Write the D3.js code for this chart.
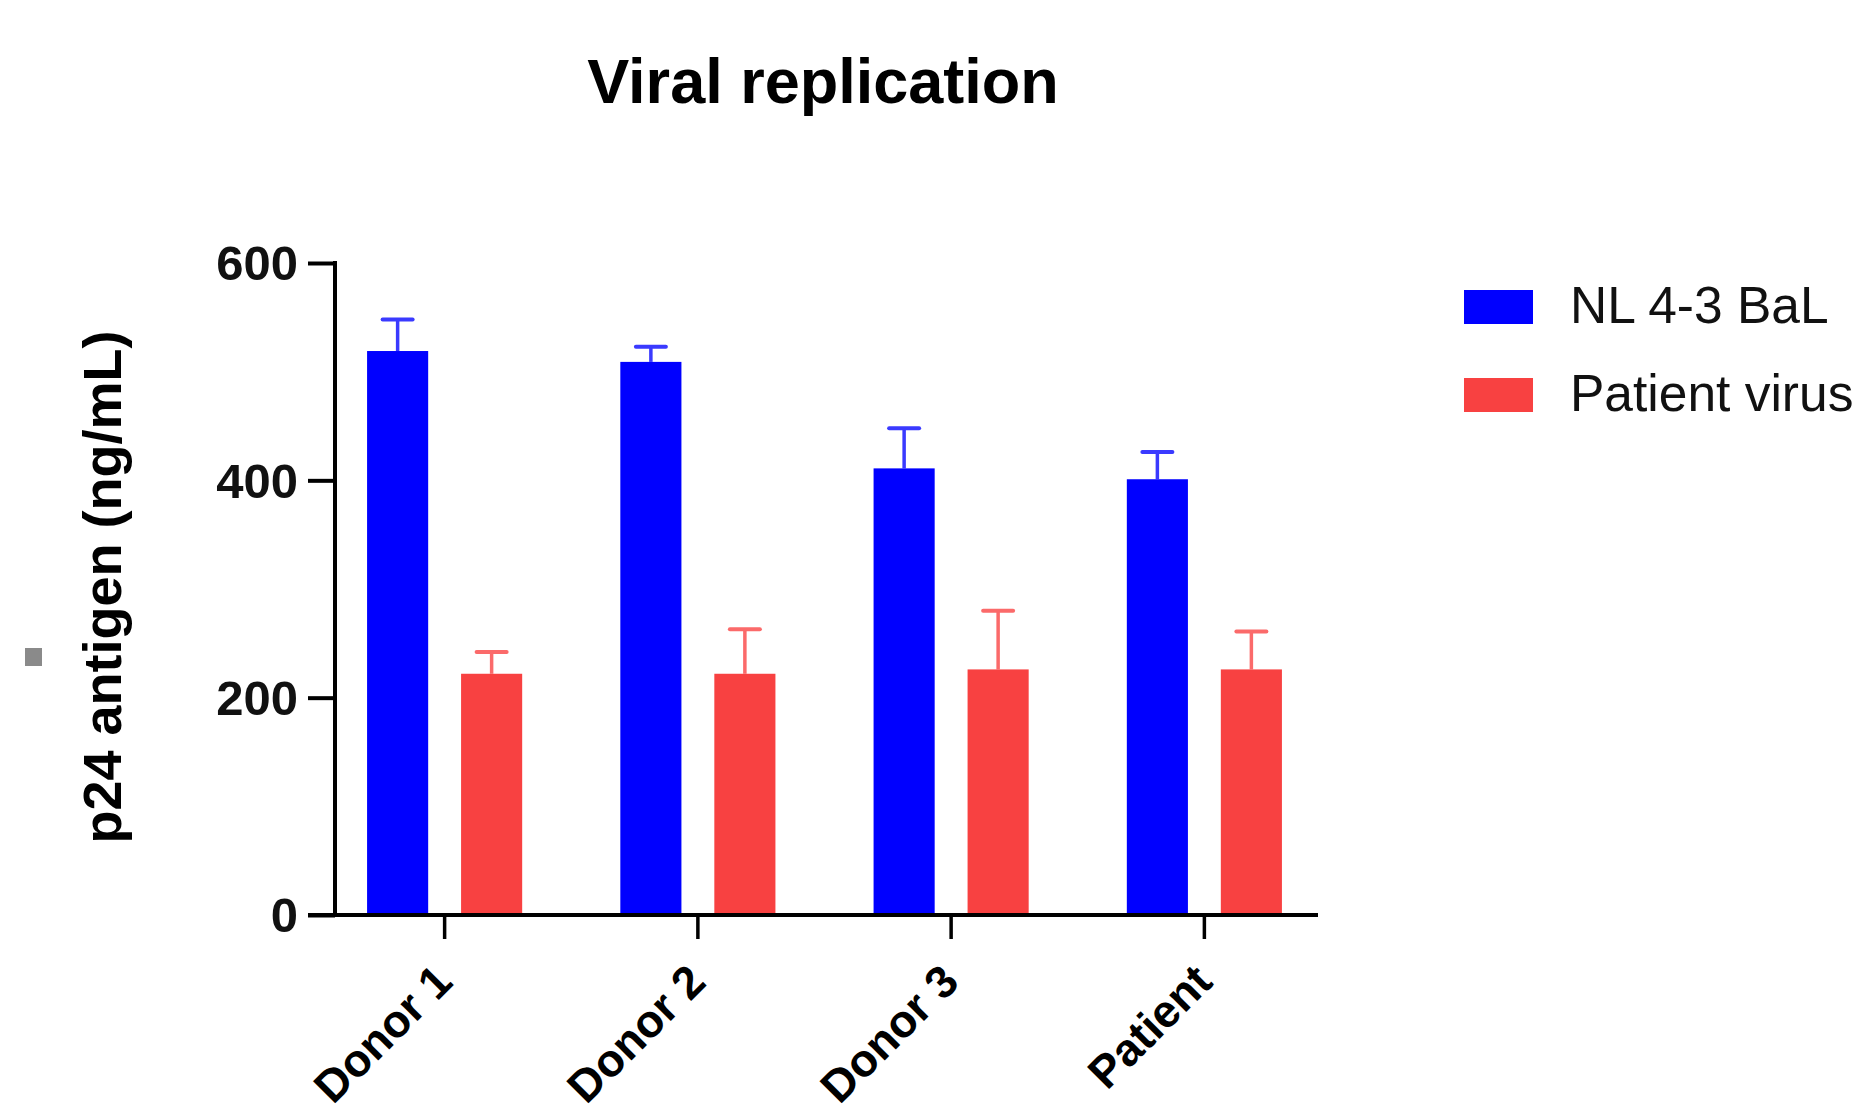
<!DOCTYPE html>
<html>
<head>
<meta charset="utf-8">
<script src="https://cdn.jsdelivr.net/npm/d3@7"></script>
<style>
  html, body { margin: 0; padding: 0; background: #ffffff; }
  svg { display: block; }
  text { font-family: "Liberation Sans", Arial, Helvetica, sans-serif; }
</style>
</head>
<body>
<svg id="chart" width="1863" height="1115"></svg>
<script>
// Groups on the x axis
const categories = ["Donor 1", "Donor 2", "Donor 3", "Patient"];
// Series names
const seriesNames = ["NL 4-3 BaL", "Patient virus"];
// Mean p24 antigen (ng/mL) per group
const nlBalMeans = [519, 509, 411, 401];
const patientVirusMeans = [222, 222, 226, 226];
// Upper error (SD) per group
const nlBalErrors = [29, 14, 37, 25];
const patientVirusErrors = [20, 41, 54, 35];
// Y axis ticks
const yTicks = [0, 200, 400, 600];

const fills = { "NL 4-3 BaL": "#0000ff", "Patient virus": "#f84141" };
const errColors = { "NL 4-3 BaL": "#3a3aff", "Patient virus": "#fb6a6a" };

const rows = categories.map((c, i) => ({
  category: c,
  values: [
    { series: seriesNames[0], mean: nlBalMeans[i], err: nlBalErrors[i] },
    { series: seriesNames[1], mean: patientVirusMeans[i], err: patientVirusErrors[i] }
  ]
}));

const svg = d3.select("#chart");

const x0 = d3.scaleBand().domain(categories).range([318, 1331]).padding(0);
const bw = x0.bandwidth();
const x1 = d3.scaleBand().domain(seriesNames)
  .range([bw / 2 - 94, bw / 2 + 94])
  .paddingInner(0.35).paddingOuter(0.175);
const y = d3.scaleLinear().domain([0, 600]).range([915, 263]);

// Title
svg.append("text")
  .attr("x", 823).attr("y", 103)
  .attr("text-anchor", "middle")
  .attr("font-size", 63).attr("font-weight", "bold")
  .attr("fill", "#000")
  .text("Viral replication");

// Bars and error bars
const groups = svg.append("g").selectAll("g")
  .data(rows).join("g")
  .attr("transform", d => `translate(${x0(d.category)},0)`);

groups.selectAll("line.err")
  .data(d => d.values).join("line")
  .attr("class", "err")
  .attr("x1", d => x1(d.series) + x1.bandwidth() / 2)
  .attr("x2", d => x1(d.series) + x1.bandwidth() / 2)
  .attr("y1", d => y(d.mean))
  .attr("y2", d => y(d.mean + d.err))
  .attr("stroke", d => errColors[d.series])
  .attr("stroke-width", 3.5);

groups.selectAll("line.cap")
  .data(d => d.values).join("line")
  .attr("class", "cap")
  .attr("x1", d => x1(d.series) + x1.bandwidth() / 2 - 15)
  .attr("x2", d => x1(d.series) + x1.bandwidth() / 2 + 15)
  .attr("y1", d => y(d.mean + d.err))
  .attr("y2", d => y(d.mean + d.err))
  .attr("stroke", d => errColors[d.series])
  .attr("stroke-width", 4)
  .attr("stroke-linecap", "round");

groups.selectAll("rect")
  .data(d => d.values).join("rect")
  .attr("x", d => x1(d.series))
  .attr("width", x1.bandwidth())
  .attr("y", d => y(d.mean))
  .attr("height", d => y(0) - y(d.mean))
  .attr("fill", d => fills[d.series]);

// Y axis
const yAxis = svg.append("g")
  .attr("transform", "translate(335,0)")
  .call(d3.axisLeft(y).tickValues(yTicks).tickSize(27).tickPadding(10).tickSizeOuter(0));
yAxis.select(".domain").attr("stroke", "#000").attr("stroke-width", 4)
  .attr("d", `M0,${y(600) - 2}V${y(0) + 2}`);
yAxis.selectAll(".tick line").attr("stroke", "#000").attr("stroke-width", 4);
yAxis.selectAll(".tick text")
  .attr("font-size", 49).attr("font-weight", "bold").attr("fill", "#111")
  .attr("font-family", "\"Liberation Sans\", Arial, sans-serif")
  .attr("dy", "0.34em");

// X axis
const xAxis = svg.append("g")
  .attr("transform", "translate(0,915)")
  .call(d3.axisBottom(x0).tickSize(24).tickSizeOuter(0).tickFormat(""));
xAxis.select(".domain").attr("stroke", "#000").attr("stroke-width", 4)
  .attr("d", "M308,0H1318");
xAxis.selectAll(".tick line").attr("stroke", "#000").attr("stroke-width", 3.5);

// Rotated category labels
svg.append("g").selectAll("text")
  .data(categories).join("text")
  .attr("transform", d => `translate(${x0(d) + bw / 2 + 10},984) rotate(-45)`)
  .attr("text-anchor", "end")
  .attr("font-size", 45.5).attr("font-weight", "bold").attr("fill", "#000")
  .text(d => d);

// Y axis title
svg.append("text")
  .attr("transform", "translate(121,587) rotate(-90)")
  .attr("text-anchor", "middle")
  .attr("font-size", 54).attr("font-weight", "bold").attr("fill", "#000")
  .text("p24 antigen (ng/mL)");

// Small grey marker at the left edge
svg.append("rect")
  .attr("x", 25).attr("y", 648).attr("width", 17).attr("height", 18)
  .attr("fill", "#8a8a8a");

// Legend
const legend = svg.append("g").selectAll("g")
  .data(seriesNames).join("g")
  .attr("transform", (d, i) => `translate(1464,${290 + i * 88})`);
legend.append("rect")
  .attr("width", 69).attr("height", 34)
  .attr("fill", d => fills[d]);
legend.append("text")
  .attr("x", 106).attr("y", 33)
  .attr("font-size", 51.5).attr("fill", "#111")
  .text(d => d);
</script>
</body>
</html>
